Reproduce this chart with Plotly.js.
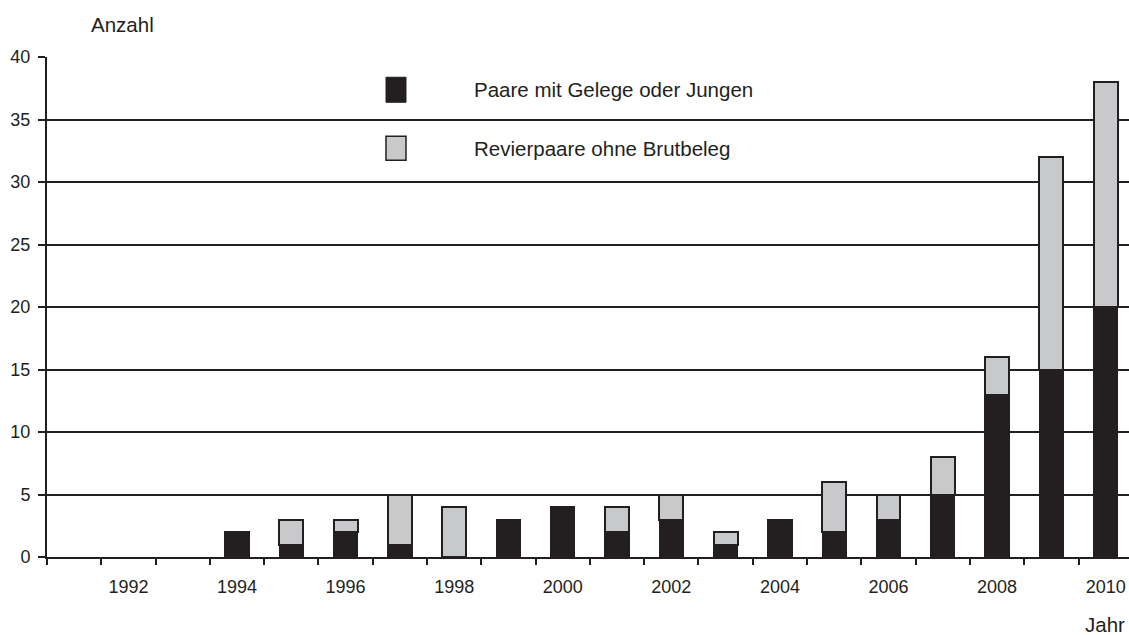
<!DOCTYPE html>
<html>
<head>
<meta charset="utf-8">
<script src="https://cdn.plot.ly/plotly-3.0.1.min.js"></script>
<style>html,body{margin:0;padding:0;background:#fff;}#chart{width:1129px;height:635px;}</style>
</head>
<body>
<div id="chart"></div>
<script>
const years = ["1991","1992","1993","1994","1995","1996","1997","1998","1999","2000","2001","2002","2003","2004","2005","2006","2007","2008","2009","2010"];
const tickLabels = ["","1992","","1994","","1996","","1998","","2000","","2002","","2004","","2006","","2008","","2010"];
const paareMitGelege = [0,0,0,2,1,2,1,0,3,4,2,3,1,3,2,3,5,13,15,20];
const revierpaareOhne = [0,0,0,0,2,1,4,4,0,0,2,2,1,0,4,2,3,3,17,18];
const seriesNames = ["Paare mit Gelege oder Jungen","Revierpaare ohne Brutbeleg"];

const dark = "#231f20";
const grey = "#c8c9cb";
const fontFam = "Liberation Sans, Arial, sans-serif";
const hideZero = arr => arr.map(v => v === 0 ? null : v);

const traces = [
  {type:"bar", x:years, y:hideZero(paareMitGelege), name:seriesNames[0], width:0.44,
   marker:{color:dark, line:{color:dark, width:1.5}}, showlegend:false},
  {type:"bar", x:years, y:hideZero(revierpaareOhne), name:seriesNames[1], width:0.44,
   marker:{color:grey, line:{color:dark, width:2}}, showlegend:false}
];

const layout = {
  width:1129, height:635,
  margin:{l:47, r:0, t:57, b:78, pad:0},
  paper_bgcolor:"#fff", plot_bgcolor:"#fff",
  barmode:"stack",
  font:{family:fontFam, color:dark, size:18},
  xaxis:{type:"category", range:[-0.5,19.43], tickmode:"array", tickvals:years, ticktext:tickLabels,
    tickson:"boundaries", ticks:"outside", ticklen:6, tickwidth:2, tickcolor:dark,
    showline:true, linecolor:dark, linewidth:2, showgrid:false, zeroline:false,
    tickfont:{size:18, color:dark}, ticklabelstandoff:12, fixedrange:true},
  yaxis:{range:[0,40], tickmode:"linear", tick0:0, dtick:5, ticks:"outside", ticklen:7, tickwidth:2, tickcolor:dark,
    showline:true, linecolor:dark, linewidth:2, showgrid:true, gridcolor:dark, gridwidth:2, zeroline:false,
    tickfont:{size:18, color:dark}, ticklabelstandoff:4, fixedrange:true},
  shapes:[
    {type:"rect", xref:"paper", yref:"paper", x0:0.3133, x1:0.3318, y0:36.38/40, y1:38.38/40,
     fillcolor:dark, line:{color:dark, width:1}},
    {type:"rect", xref:"paper", yref:"paper", x0:0.3133, x1:0.3318, y0:31.75/40, y1:33.66/40,
     fillcolor:grey, line:{color:dark, width:1.5}}
  ],
  annotations:[
    {text:seriesNames[0], xref:"paper", yref:"paper", x:0.3928, y:37.42/40, xanchor:"left", yanchor:"middle",
     showarrow:false, font:{size:20.5, color:dark}},
    {text:seriesNames[1], xref:"paper", yref:"paper", x:0.3928, y:32.7/40, xanchor:"left", yanchor:"middle",
     showarrow:false, font:{size:20.5, color:dark}},
    {text:"Anzahl", xref:"paper", yref:"paper", x:0.0702, y:1.065, xanchor:"center", yanchor:"middle",
     showarrow:false, font:{size:20.5, color:dark}},
    {text:"Jahr", xref:"paper", yref:"paper", x:0.998, y:-0.135, xanchor:"right", yanchor:"middle",
     showarrow:false, font:{size:20.5, color:dark}}
  ]
};

Plotly.newPlot("chart", traces, layout, {displayModeBar:false, staticPlot:true});
</script>
</body>
</html>
